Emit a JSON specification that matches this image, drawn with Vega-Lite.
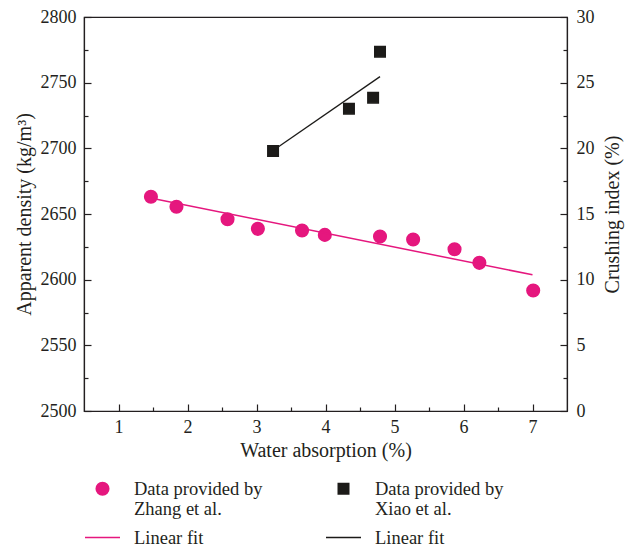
{
  "$schema": "https://vega.github.io/schema/vega-lite/v6.json",
  "width": 483,
  "height": 394,
  "padding": {"left": 14, "top": 8, "right": 5, "bottom": 0},
  "config": {
    "font": "Liberation Serif",
    "view": {"stroke": "#231f20", "strokeWidth": 1.2},
    "axis": {
      "labelFont": "Liberation Serif",
      "titleFont": "Liberation Serif",
      "labelFontSize": 18,
      "titleFontSize": 20,
      "titleFontWeight": "normal",
      "labelColor": "#231f20",
      "titleColor": "#231f20",
      "domainColor": "#231f20",
      "domainWidth": 1.2,
      "tickColor": "#231f20",
      "tickWidth": 1.2,
      "grid": false
    },
    "legend": {
      "labelFont": "Liberation Serif",
      "labelFontSize": 18.5,
      "labelColor": "#231f20"
    }
  },
  "datasets": {
    "zhang": [
      {"series": "Zhang", "wa": 1.47, "density": 2663.1},
      {"series": "Zhang", "wa": 1.84, "density": 2655.5},
      {"series": "Zhang", "wa": 2.58, "density": 2646.0},
      {"series": "Zhang", "wa": 3.02, "density": 2638.7},
      {"series": "Zhang", "wa": 3.66, "density": 2637.4},
      {"series": "Zhang", "wa": 3.99, "density": 2634.1},
      {"series": "Zhang", "wa": 4.79, "density": 2632.9},
      {"series": "Zhang", "wa": 5.27, "density": 2630.6},
      {"series": "Zhang", "wa": 5.87, "density": 2623.2},
      {"series": "Zhang", "wa": 6.23, "density": 2612.8},
      {"series": "Zhang", "wa": 7.01, "density": 2591.7}
    ],
    "zhangfit": [
      {"series": "ZhangFit", "wa": 1.48, "density": 2662.0},
      {"series": "ZhangFit", "wa": 7.0, "density": 2603.7}
    ],
    "xiao": [
      {"series": "Xiao", "wa": 3.24, "crush": 19.79},
      {"series": "Xiao", "wa": 4.34, "crush": 23.02},
      {"series": "Xiao", "wa": 4.69, "crush": 23.86},
      {"series": "Xiao", "wa": 4.79, "crush": 27.36}
    ],
    "xiaofit": [
      {"series": "XiaoFit", "wa": 3.24, "crush": 19.84},
      {"series": "XiaoFit", "wa": 4.79, "crush": 25.46}
    ]
  },
  "layer": [
    {
      "layer": [
        {
          "data": {"name": "zhang"},
          "mark": {"type": "point", "filled": true, "opacity": 1, "size": 1225, "strokeWidth": 1.5},
          "encoding": {
            "x": {
              "field": "wa", "type": "quantitative",
              "scale": {"domain": [0.5, 7.5], "nice": false, "zero": false},
              "axis": {
                "orient": "bottom",
                "title": "Water absorption (%)",
                "values": [1, 2, 3, 4, 5, 6, 7],
                "format": "d",
                "ticks": false,
                "tickSize": 0,
                "labelPadding": 7,
                "titlePadding": 4
              }
            },
            "y": {
              "field": "density", "type": "quantitative",
              "scale": {"domain": [2500, 2800], "nice": false, "zero": false},
              "axis": {
                "orient": "left",
                "title": "Apparent density (kg/m³)",
                "values": [2500, 2550, 2600, 2650, 2700, 2750, 2800],
                "format": "d",
                "ticks": false,
                "tickSize": 0,
                "labelPadding": 8,
                "titlePadding": 6
              }
            },
            "color": {
              "field": "series", "type": "nominal",
              "scale": {"domain": ["Zhang", "Xiao", "ZhangFit", "XiaoFit"], "range": ["#e5177e", "#1c1b19", "#e5177e", "#1c1b19"]},
              "legend": {
                "title": null,
                "orient": "bottom",
                "direction": "horizontal",
                "columns": 2,
                "columnPadding": 60,
                "rowPadding": -3,
                "symbolSize": 1225,
                "symbolStrokeWidth": 1.5,
                "labelOffset": 13,
                "offset": 10,
                "labelExpr": "datum.value == 'Zhang' ? ['Data provided by', 'Zhang et al.'] : datum.value == 'Xiao' ? ['Data provided by', 'Xiao et al.'] : 'Linear fit'"
              }
            },
            "stroke": {
              "field": "series", "type": "nominal",
              "scale": {"domain": ["Zhang", "Xiao", "ZhangFit", "XiaoFit"], "range": ["#e5177e", "#1c1b19", "#e5177e", "#1c1b19"]}
            },
            "shape": {
              "field": "series", "type": "nominal",
              "scale": {
                "domain": ["Zhang", "Xiao", "ZhangFit", "XiaoFit"],
                "range": [
                  "M-0.36,0A0.36,0.36,0,1,1,0.36,0A0.36,0.36,0,1,1,-0.36,0Z",
                  "M-0.3,-0.3H0.3V0.3H-0.3Z",
                  "M-1,0H1",
                  "M-1,0H1"
                ]
              }
            }
          }
        },
        {
          "data": {"name": "zhangfit"},
          "mark": {"type": "line", "color": "#e5177e", "strokeWidth": 1.5},
          "encoding": {
            "x": {
              "field": "wa", "type": "quantitative",
              "axis": {
                "orient": "top", "offset": -394, "title": null,
                "values": [1, 2, 3, 4, 5, 6, 7],
                "labels": false, "domain": false, "tickSize": 7
              }
            },
            "y": {
              "field": "density", "type": "quantitative",
              "axis": {
                "orient": "right", "offset": -483, "title": null,
                "values": [2500, 2550, 2600, 2650, 2700, 2750, 2800],
                "labels": false, "domain": false, "tickSize": 7
              }
            }
          }
        },
        {
          "data": {"name": "zhangfit"},
          "mark": {"type": "line", "opacity": 0},
          "encoding": {
            "x": {
              "field": "wa", "type": "quantitative",
              "axis": {
                "orient": "top", "offset": -394, "title": null,
                "values": [1.5, 2.5, 3.5, 4.5, 5.5, 6.5],
                "labels": false, "domain": false, "tickSize": 4
              }
            },
            "y": {
              "field": "density", "type": "quantitative",
              "axis": {
                "orient": "right", "offset": -483, "title": null,
                "values": [2525, 2575, 2625, 2675, 2725, 2775],
                "labels": false, "domain": false, "tickSize": 4
              }
            }
          }
        }
      ],
      "resolve": {"axis": {"x": "independent", "y": "independent"}}
    },
    {
      "layer": [
        {
          "data": {"name": "xiao"},
          "mark": {"type": "point", "filled": true, "opacity": 1, "size": 1225, "strokeWidth": 1.5},
          "encoding": {
            "x": {"field": "wa", "type": "quantitative", "axis": null},
            "y": {
              "field": "crush", "type": "quantitative",
              "scale": {"domain": [0, 30], "nice": false, "zero": false},
              "axis": {
                "orient": "right",
                "title": "Crushing index (%)",
                "titleAngle": -90,
                "titleBaseline": "top",
                "values": [0, 5, 10, 15, 20, 25, 30],
                "ticks": false,
                "tickSize": 0,
                "labelPadding": 9,
                "titlePadding": 8
              }
            },
            "color": {"field": "series", "type": "nominal"},
            "stroke": {"field": "series", "type": "nominal"},
            "shape": {"field": "series", "type": "nominal"}
          }
        },
        {
          "data": {"name": "xiaofit"},
          "mark": {"type": "line", "color": "#1c1b19", "strokeWidth": 1.3},
          "encoding": {
            "x": {"field": "wa", "type": "quantitative", "axis": null},
            "y": {
              "field": "crush", "type": "quantitative",
              "axis": {
                "orient": "left", "offset": -483, "title": null,
                "values": [0, 5, 10, 15, 20, 25, 30],
                "labels": false, "domain": false, "tickSize": 7
              }
            }
          }
        },
        {
          "data": {"name": "xiaofit"},
          "mark": {"type": "line", "opacity": 0},
          "encoding": {
            "x": {"field": "wa", "type": "quantitative", "axis": null},
            "y": {
              "field": "crush", "type": "quantitative",
              "axis": {
                "orient": "left", "offset": -483, "title": null,
                "values": [2.5, 7.5, 12.5, 17.5, 22.5, 27.5],
                "labels": false, "domain": false, "tickSize": 4
              }
            }
          }
        }
      ],
      "resolve": {"axis": {"y": "independent"}}
    }
  ],
  "resolve": {"scale": {"y": "independent"}, "axis": {"x": "independent"}}
}
